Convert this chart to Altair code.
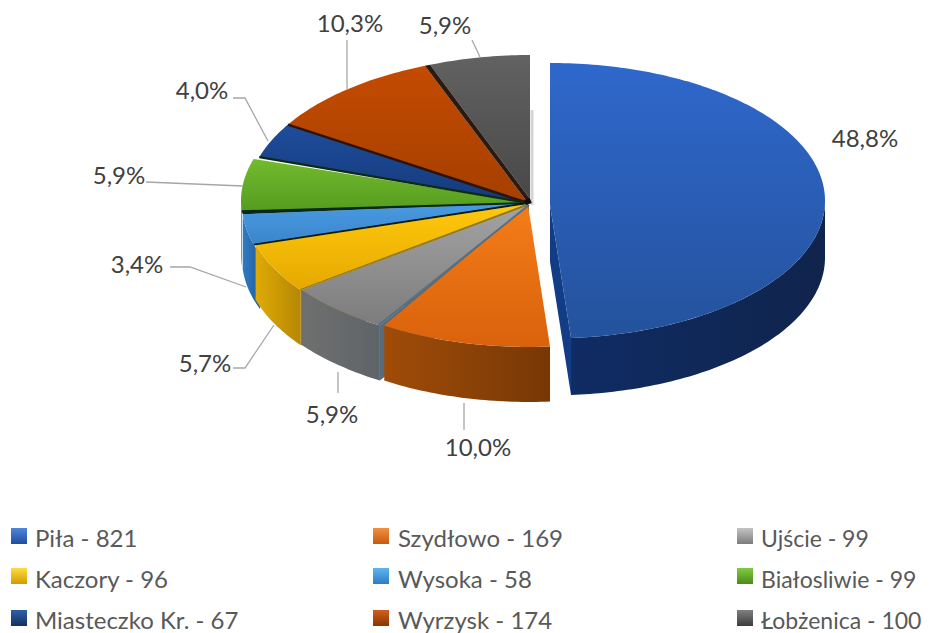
import math
import altair as alt

NAMES = ["Piła", "Szydłowo", "Ujście", "Kaczory", "Wysoka", "Białosliwie", "Miasteczko Kr.", "Wyrzysk", "Łobżenica"]
VALUES = [821, 169, 99, 96, 58, 99, 67, 174, 100]
TOTAL = sum(VALUES)

# style: top-face gradient (top, bottom), wall gradient (left, right), swatch colours
TOP = [("#2f68cc", "#24529c"), ("#f47c18", "#d9620c"), ("#a3a3a3", "#7c7c7c"), ("#ffc90c", "#e6a800"),
       ("#4a9be2", "#3a85cb"), ("#72bb2e", "#559c1f"), ("#1f4d9b", "#143a7c"), ("#c44b00", "#a53f00"),
       ("#626262", "#484848")]
WALL = [("#0f2c64", "#10244c"), ("#a04c08", "#773805"), ("#6f6f6f", "#5f6468"), ("#e0aa06", "#b58703"),
        ("#2f7cc4", "#235f9c"), ("#4a8a1a", "#4a8a1a"), ("#143a7c", "#143a7c"), ("#8a3600", "#8a3600"),
        ("#3c3c3c", "#3c3c3c")]
SWATCH = [("#4f86dc", "#1f4d9f"), ("#f09040", "#c85a10"), ("#c4c4c4", "#7c7c7c"), ("#ffdc40", "#d09c00"),
          ("#60b4ee", "#2f7cc4"), ("#80cc40", "#4a8a1a"), ("#3060a8", "#143060"), ("#d06020", "#8a3600"),
          ("#808080", "#3c3c3c")]
# style: ellipse of each slice's top face (cx, cy, rx, ry), apex, wall depth
ELLIPSE = [(550, 200.7, 275, 137.7), (529, 204, 275, 143), (531, 204, 287, 143), (525, 204, 281, 143),
           (527, 204, 285, 143), (527, 201, 286, 143), (527, 199, 280, 143), (527, 199, 280, 143),
           (530, 198, 274, 143)]
APEX = [(550, 205), (528, 205), (529, 205), (528, 204), (528, 203), (528, 203), (528, 203), (528, 203), (530, 199)]
DEPTH = [57, 55, 55, 55, 55, 55, 55, 55, 55]

LABEL_POS = [(865, 140), (478, 449), (332, 416), (205, 365), (137, 266), (119, 177), (202, 92), (350, 25), (445, 27)]
LEADERS = [
    [(464, 403), (464, 430)],
    [(338, 372), (338, 393)],
    [(233, 368), (245, 368), (274, 325)],
    [(170, 267), (190, 267), (246, 287)],
    [(146, 182), (170, 183), (243, 186)],
    [(233, 98), (245, 98), (268, 141)],
    [(347, 40), (347, 90)],
    [(472, 40), (480, 57)],
]
LEGEND_COLS = [(11, 35), (373, 398), (737, 761)]
LEGEND_ROWS = [(528, 540), (568, 581), (610, 622)]
LEGEND_FONT = [24, 24, 23]

PROJ = dict(type="identity", scale=1, translate=[-8, -8])
FONT = "Lato"
N = 60


def grad(c0, c1, horizontal=False):
    return {"gradient": "linear", "x1": 0, "y1": 0, "x2": 1 if horizontal else 0, "y2": 0 if horizontal else 1,
            "stops": [{"offset": 0, "color": c0}, {"offset": 1, "color": c1}]}


def feat(kind, coords):
    return {"type": "Feature", "properties": {}, "geometry": {"type": kind, "coordinates": coords}}


def poly(points, fill):
    pts = [list(p) for p in points] + [list(points[0])]
    return alt.Chart(alt.Data(values=[feat("Polygon", [pts])])).mark_geoshape(fill=fill, stroke=None).project(**PROJ)


def stroke(points, color, width):
    return alt.Chart(alt.Data(values=[feat("LineString", [list(p) for p in points])])).mark_geoshape(
        fill=None, filled=False, stroke=color, strokeWidth=width).project(**PROJ)


def pt(e, deg):
    r = math.radians(deg)
    return (e[0] + e[2] * math.sin(r), e[1] - e[3] * math.cos(r))


def arc(e, a0, a1):
    n = max(2, int(N * abs(a1 - a0) / 60) + 2)
    return [pt(e, a0 + (a1 - a0) * i / (n - 1)) for i in range(n)]


angles = [0.0]
for v in VALUES:
    angles.append(angles[-1] + v / TOTAL * 360)

layers = []
# faint shadow beside the last slice
layers.append(stroke([(532, 110), (532, 205)], "#d4d4d4", 3))
# back-to-front: last slice (far side) first, Szydłowo last; Piła is apart from them
order = [8, 7, 6, 5, 4, 3, 2, 1, 0]
for i in order:
    a0, a1 = angles[i], angles[i + 1]
    e, ap, d = ELLIPSE[i], APEX[i], DEPTH[i]
    w0, w1 = max(a0, 90), min(a1, 270)
    if i == 4:
        w0 -= 4  # wall runs on behind the neighbouring slice
    if i == 0:
        c = pt(e, a1)
        layers.append(poly([ap, c, (c[0], c[1] + d), (ap[0], ap[1] + d)], "#123c86"))
    if i in (2, 3):
        c = pt(e, a0)
        layers.append(poly([ap, c, (c[0], c[1] + d), (ap[0], ap[1] + d)], "#566b7c" if i == 2 else "#9c7804"))
    if w1 > w0:
        top = arc(e, w0, w1)
        bot = [(x, y + d) for x, y in reversed(top)]
        layers.append(poly(top + bot, grad(WALL[i][0], WALL[i][1], True)))
    layers.append(poly([ap] + arc(e, a0, a1), grad(*TOP[i])))

# dark seams between slices on the upper left
layers.append(poly([APEX[7], pt(ELLIPSE[7], angles[8]), pt(ELLIPSE[8], angles[8]), APEX[8]], "#2a1a10"))
layers.append(poly([APEX[4], pt(ELLIPSE[4], angles[5]), pt(ELLIPSE[5], angles[5])], "#0a2a20"))
for i, col, w in [(7, "#2e1405", 2.4), (6, "#0c2a14", 2.2), (5, "#0a2a20", 2), (4, "#0a1a10", 1.8)]:
    e = ELLIPSE[i]
    layers.append(stroke([APEX[i], pt(e, angles[i])], col, w))
layers.append(stroke([APEX[2], pt(ELLIPSE[2], angles[2] + 0.3)], "#56707f", 2))
layers.append(stroke([APEX[3], pt(ELLIPSE[3], angles[3] + 0.2)], "#8c7420", 1.2))
layers.append(stroke([(527, 199), (529, 204)], "#140c06", 6))

for line in LEADERS:
    layers.append(stroke(line, "#a6a6a6", 1.3))

labels = [{"t": f"{v / TOTAL * 100:.1f}%".replace(".", ","), "lon": p[0], "lat": p[1]} for v, p in zip(VALUES, LABEL_POS)]
layers.append(alt.Chart(alt.Data(values=labels)).mark_text(font=FONT, fontSize=24, color="#404040", align="center", baseline="middle").encode(
    longitude="lon:Q", latitude="lat:Q", text="t:N").project(**PROJ))

leg = [[], [], []]
for i, (n, v) in enumerate(zip(NAMES, VALUES)):
    r, c = i // 3, i % 3
    sx, tx = LEGEND_COLS[c]
    sy, ty = LEGEND_ROWS[r]
    layers.append(poly([(sx, sy), (sx + 16, sy), (sx + 16, sy + 16), (sx, sy + 16)], grad(*SWATCH[i])))
    leg[c].append({"t": f"{n} - {v}", "lon": tx, "lat": ty})
for c in range(3):
    layers.append(alt.Chart(alt.Data(values=leg[c])).mark_text(font=FONT, fontSize=LEGEND_FONT[c], color="#595959", align="left", baseline="middle").encode(
        longitude="lon:Q", latitude="lat:Q", text="t:N").project(**PROJ))

chart = alt.layer(*layers).properties(width=914, height=625, padding=0, autosize=alt.AutoSizeParams(type="none")).configure_view(stroke=None)
chart.save("out.html", embed_options={"renderer": "svg", "actions": False})
